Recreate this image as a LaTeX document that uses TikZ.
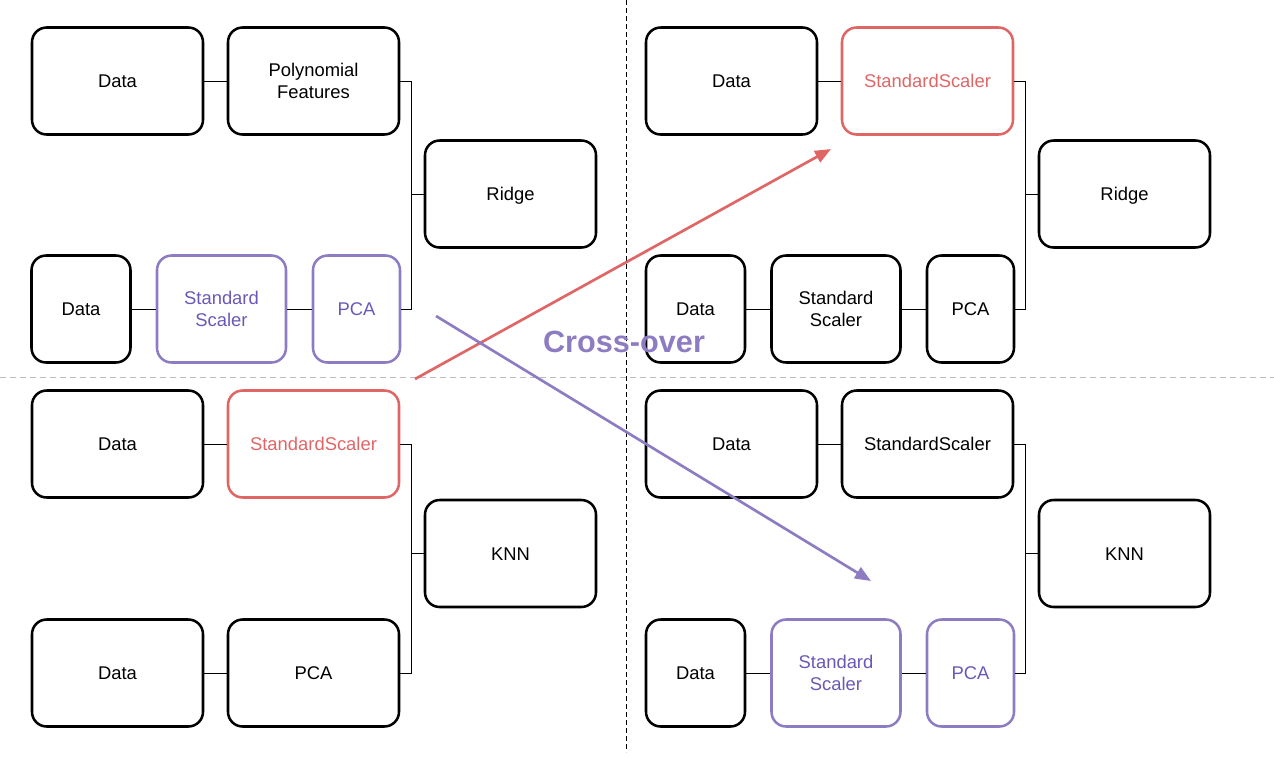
\documentclass[tikz,border=0pt]{standalone}
\usepackage{fontspec}
\setmainfont{Liberation Sans}
\usetikzlibrary{arrows.meta}
\definecolor{redline}{HTML}{E06666}
\definecolor{purpleline}{HTML}{8E7CC3}
\definecolor{purpletext}{HTML}{6B58B6}
\definecolor{gridgray}{HTML}{BBBBBB}
\def\u{0.75pt}
\tikzset{
  stage/.style={draw, line width=1.9pt, rounded corners=11pt, align=center,
    inner sep=0pt, minimum height=107*\u,
    font=\fontsize{13.8}{16.5}\selectfont},
  oneline/.style={text height=9.9pt, text depth=0pt},
  big/.style={stage, minimum width=171*\u},
  mid/.style={stage, minimum width=129*\u},
  small/.style={stage, minimum width=99*\u},
  narrow/.style={stage, minimum width=87*\u},
  redbox/.style={draw=redline, text=redline},
  purplebox/.style={draw=purpleline, text=purpletext},
  link/.style={line width=0.75pt},
  swap/.style={line width=2pt, -{Triangle[length=12pt,width=9.5pt]}}
}
\begin{document}
\begin{tikzpicture}[x=0.75pt,y=-0.75pt]
\useasboundingbox (0,0) rectangle (1274,758);
% quadrant separators
\draw[gridgray, line width=0.75pt, dash pattern=on 4.5pt off 3pt] (0,377)--(1274,377);
\draw[line width=0.75pt, dash pattern=on 3.5pt off 2.5pt] (626,0)--(626,752);

% top left: poly + ridge
\node[big,oneline] (dataA) at (117.5,81) {Data};
\node[big] (polyA) at (313.5,81) {Polynomial\\Features};
\node[big,oneline] (ridgeA) at (510.5,194) {Ridge};
\node[small,oneline] (dataA2) at (81,309) {Data};
\node[mid,purplebox] (scaleA) at (221.5,309) {Standard\\Scaler};
\node[narrow,purplebox,oneline] (pcaA) at (356.5,309) {PCA};
\draw[link] (dataA) -- (polyA);
\draw[link] (dataA2) -- (scaleA);
\draw[link] (scaleA) -- (pcaA);
\draw[link] (polyA.east) -- ++(11,0) |- (pcaA.east);
\draw[link] (ridgeA.west) -- ++(-13,0);

% top right: child with ridge
\node[big,oneline] (dataB) at (731.5,81) {Data};
\node[big,redbox,oneline] (scaleB) at (927.5,81) {StandardScaler};
\node[big,oneline] (ridgeB) at (1124.5,194) {Ridge};
\node[small,oneline] (dataB2) at (695.5,309) {Data};
\node[mid] (scaleB2) at (836,309) {Standard\\Scaler};
\node[narrow,oneline] (pcaB) at (970.5,309) {PCA};
\draw[link] (dataB) -- (scaleB);
\draw[link] (dataB2) -- (scaleB2);
\draw[link] (scaleB2) -- (pcaB);
\draw[link] (scaleB.east) -- ++(11,0) |- (pcaB.east);
\draw[link] (ridgeB.west) -- ++(-13,0);

% bottom left: knn
\node[big,oneline] (dataC) at (117.5,444) {Data};
\node[big,redbox,oneline] (scaleC) at (313.5,444) {StandardScaler};
\node[big,oneline] (knnC) at (510.5,553.5) {KNN};
\node[big,oneline] (dataC2) at (117.5,673) {Data};
\node[big,oneline] (pcaC) at (313.5,673) {PCA};
\draw[link] (dataC) -- (scaleC);
\draw[link] (dataC2) -- (pcaC);
\draw[link] (scaleC.east) -- ++(11,0) |- (pcaC.east);
\draw[link] (knnC.west) -- ++(-13,0);

% bottom right: child with knn
\node[big,oneline] (dataD) at (731.5,444) {Data};
\node[big,oneline] (scaleD) at (927.5,444) {StandardScaler};
\node[big,oneline] (knnD) at (1124.5,553.5) {KNN};
\node[small,oneline] (dataD2) at (695.5,673) {Data};
\node[mid,purplebox] (scaleD2) at (836,673) {Standard\\Scaler};
\node[narrow,purplebox,oneline] (pcaD) at (970.5,673) {PCA};
\draw[link] (dataD) -- (scaleD);
\draw[link] (dataD2) -- (scaleD2);
\draw[link] (scaleD2) -- (pcaD);
\draw[link] (scaleD.east) -- ++(11,0) |- (pcaD.east);
\draw[link] (knnD.west) -- ++(-13,0);

% cross-over arrows
\coordinate (redFrom) at (415,379);
\coordinate (redTo) at (831,149);
\coordinate (purpleFrom) at (436,316);
\coordinate (purpleTo) at (871,581);
\draw[swap,redline] (redFrom) -- (redTo);
\draw[swap,purpleline] (purpleFrom) -- (purpleTo);
\node[text=purpleline, font=\fontsize{23}{27}\bfseries] (crossLabel) at (624,341.5) {Cross-over};
\end{tikzpicture}
\end{document}
